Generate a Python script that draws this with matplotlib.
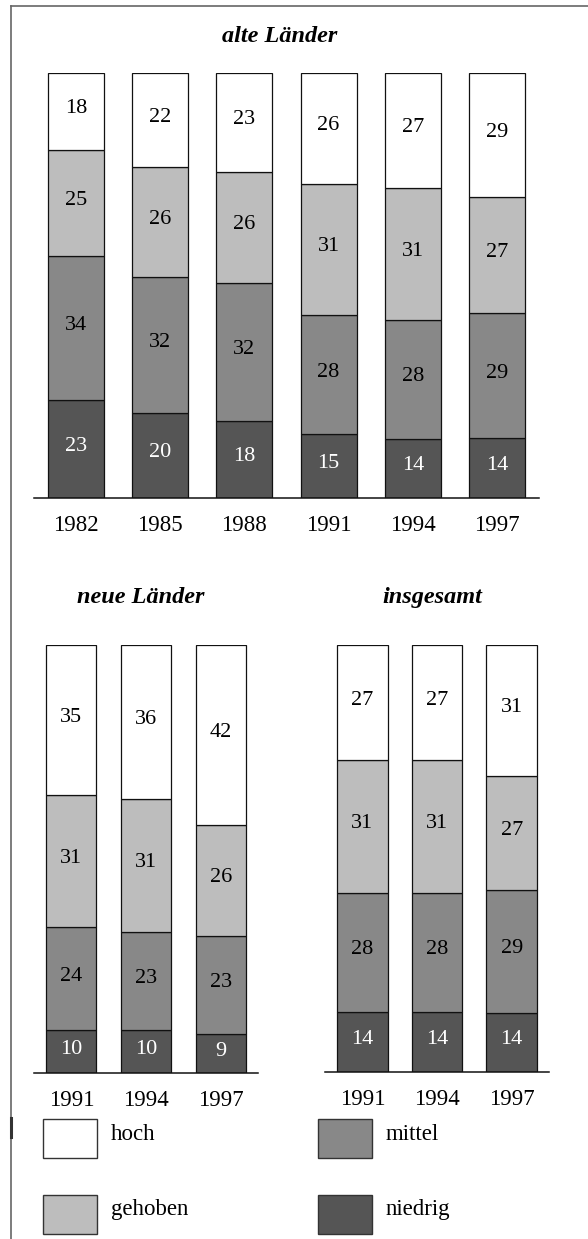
import numpy as np
import matplotlib.pyplot as plt
from matplotlib.patches import Rectangle
from matplotlib.lines import Line2D

plt.rcParams['font.family'] = ['Liberation Serif', 'DejaVu Serif']

# data: shares per class (percent)
categories = ['hoch', 'gehoben', 'mittel', 'niedrig']
colors = ['#ffffff', '#bdbdbd', '#888888', '#555555']
text_colors = ['black', 'black', 'black', 'white']

years_alt = ['1982', '1985', '1988', '1991', '1994', '1997']
hoch_alt = [18, 22, 23, 26, 27, 29]
gehoben_alt = [25, 26, 26, 31, 31, 27]
mittel_alt = [34, 32, 32, 28, 28, 29]
niedrig_alt = [23, 20, 18, 15, 14, 14]

years_neu = ['1991', '1994', '1997']
hoch_neu = [35, 36, 42]
gehoben_neu = [31, 31, 26]
mittel_neu = [24, 23, 23]
niedrig_neu = [10, 10, 9]

years_ges = ['1991', '1994', '1997']
hoch_ges = [27, 27, 31]
gehoben_ges = [31, 31, 27]
mittel_ges = [28, 28, 29]
niedrig_ges = [14, 14, 14]

W, H = 588, 1239
fig = plt.figure(figsize=(W / 100, H / 100), dpi=100)


def px_axes(left, right, top, bottom):
    return fig.add_axes([left / W, 1 - bottom / H, (right - left) / W, (bottom - top) / H])


def stacked(ax, years, series, width):
    x = np.arange(len(years))
    vals = np.array(series, dtype=float)
    shares = vals / vals.sum(axis=0) * 100  # bars drawn as full 100 %
    bottom = np.zeros(len(years))
    # draw from bottom (niedrig) up to top (hoch)
    for i in reversed(range(len(series))):
        ax.bar(x, shares[i], width, bottom=bottom, color=colors[i],
               edgecolor='#111111', linewidth=0.9, zorder=2)
        for xi, b, h, v in zip(x, bottom, shares[i], vals[i]):
            ax.text(xi, b + h / 2 + 0.6, f"{v:.0f}", ha='center', va='center',
                    fontsize=16, color=text_colors[i], zorder=3)
        bottom += shares[i]
    ax.set_xlim(-0.5, len(years) - 0.5)
    ax.set_ylim(0, 100)
    ax.set_xticks(x)
    ax.set_xticklabels(years, fontsize=16.5)
    ax.tick_params(axis='x', length=0, pad=12.5)
    ax.set_yticks([])
    for s in ['left', 'right', 'top']:
        ax.spines[s].set_visible(False)
    ax.spines['bottom'].set_linewidth(1.1)
    ax.spines['bottom'].set_color('#111111')
    ax.patch.set_alpha(0)


ax1 = px_axes(34, 539, 73, 498)
stacked(ax1, years_alt, [hoch_alt, gehoben_alt, mittel_alt, niedrig_alt], 0.665)

ax2 = px_axes(34, 258, 645, 1073)
stacked(ax2, years_neu, [hoch_neu, gehoben_neu, mittel_neu, niedrig_neu], 0.67)

ax3 = px_axes(325, 549, 645, 1072)
stacked(ax3, years_ges, [hoch_ges, gehoben_ges, mittel_ges, niedrig_ges], 0.68)

# panel titles
title_kw = dict(fontsize=17.5, fontweight='bold', fontstyle='italic', ha='center', va='center')
fig.text(280 / W, 1 - 36 / H, 'alte Länder', **title_kw)
fig.text(141 / W, 1 - 598 / H, 'neue Länder', **title_kw)
fig.text(432 / W, 1 - 598 / H, 'insgesamt', **title_kw)

# legend (two columns)
legend_pos = {'hoch': (43, 1119), 'gehoben': (43, 1195), 'mittel': (318, 1119), 'niedrig': (318, 1195)}
for cat, col in zip(categories, colors):
    lx, ly = legend_pos[cat]
    fig.patches.append(Rectangle((lx / W, 1 - (ly + 39) / H), 54 / W, 39 / H,
                                 transform=fig.transFigure, facecolor=col,
                                 edgecolor='#333333', linewidth=1.0))
    fig.text((lx + 68) / W, 1 - (ly + 15) / H, cat, fontsize=16.5, ha='left', va='center')

# frame lines (top and left)
fig.add_artist(Line2D([11 / W, 1], [1 - 6 / H, 1 - 6 / H], transform=fig.transFigure,
                      color='#666666', linewidth=1.2))
fig.add_artist(Line2D([11 / W, 11 / W], [0, 1 - 6 / H], transform=fig.transFigure,
                      color='#666666', linewidth=1.2))
fig.add_artist(Line2D([11 / W, 11 / W], [1 - 1118 / H, 1 - 1137 / H], transform=fig.transFigure,
                      color='#333333', linewidth=2.2))

fig.savefig('out.png', dpi=100)
